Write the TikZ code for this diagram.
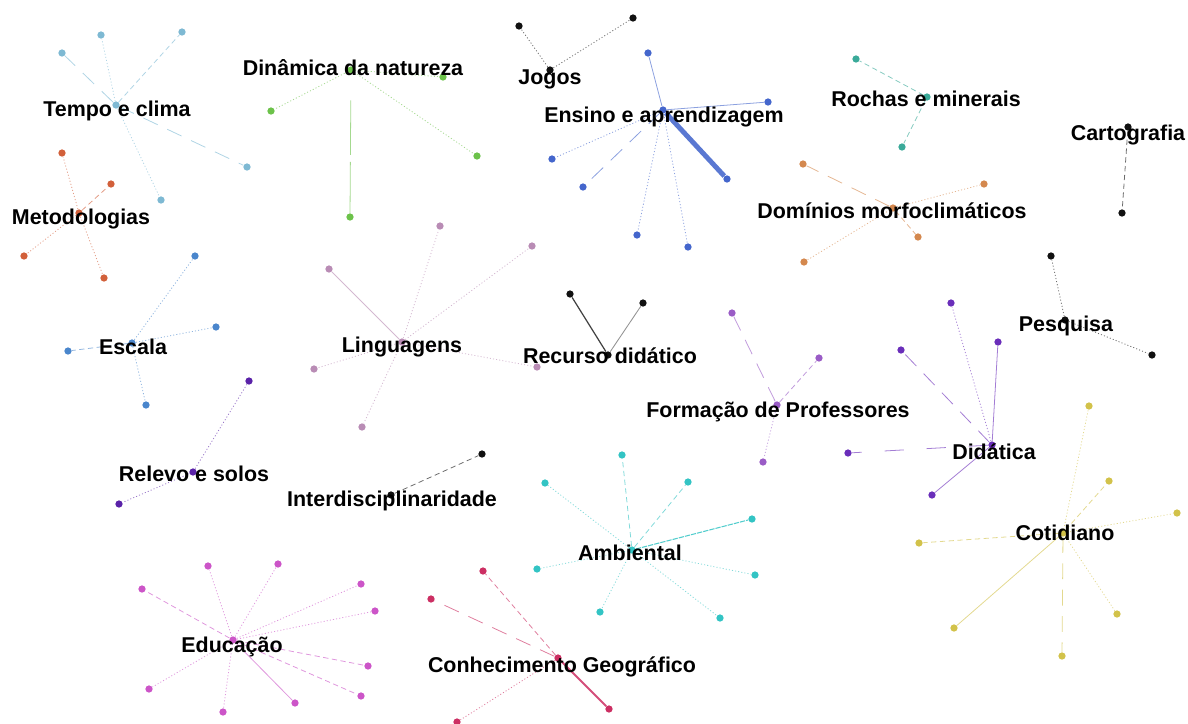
\documentclass[tikz,border=0pt]{standalone}
\usepackage{fontspec}
\setmainfont{Liberation Sans}
\definecolor{ctempo}{HTML}{7EB9D3}
\definecolor{cmet}{HTML}{D2603A}
\definecolor{cdin}{HTML}{6CC24A}
\definecolor{cens}{HTML}{4466CC}
\definecolor{croc}{HTML}{3AAA99}
\definecolor{cdom}{HTML}{D4884E}
\definecolor{cesc}{HTML}{4A86CC}
\definecolor{clin}{HTML}{B98CB5}
\definecolor{crel}{HTML}{5A22A8}
\definecolor{cfor}{HTML}{9A5CC6}
\definecolor{cdid}{HTML}{6A2EBA}
\definecolor{ccot}{HTML}{D2C24A}
\definecolor{camb}{HTML}{33C4C4}
\definecolor{cedu}{HTML}{CC55C8}
\definecolor{ccon}{HTML}{CC2F63}
\definecolor{cblk}{HTML}{111111}
\tikzset{
  pt/.style={circle, fill=#1, draw=none, inner sep=0pt, minimum size=0.145cm},
  ed/.style={draw=#1!62, line width=0.45pt},
  dt/.style={dash pattern=on 0.6pt off 1.2pt},
  ds/.style={dash pattern=on 3pt off 2pt},
  ld/.style={dash pattern=on 9pt off 6pt},
  vld/.style={dash pattern=on 11pt off 13pt},
  lbl/.style={font=\fontsize{12.2}{14}\selectfont\bfseries, anchor=base, inner sep=0pt, text=black}
}
\begin{document}
\begin{tikzpicture}[x=0.02cm, y=-0.02cm]
\useasboundingbox (0,0) rectangle (1188,724);
% ---------- dots ----------
% Tempo e clima
\node[pt=ctempo] (tc) at (116,105) {};
\node[pt=ctempo] (tc1) at (62,53) {};
\node[pt=ctempo] (tc2) at (101,35) {};
\node[pt=ctempo] (tc3) at (182,32) {};
\node[pt=ctempo] (tc4) at (247,167) {};
\node[pt=ctempo] (tc5) at (161,200) {};
% Metodologias
\node[pt=cmet] (me) at (79,213) {};
\node[pt=cmet] (me1) at (62,153) {};
\node[pt=cmet] (me2) at (111,184) {};
\node[pt=cmet] (me3) at (24,256) {};
\node[pt=cmet] (me4) at (104,278) {};
% Dinamica
\node[pt=cdin] (dn) at (351,70) {};
\node[pt=cdin] (dn1) at (271,111) {};
\node[pt=cdin] (dn2) at (443,77) {};
\node[pt=cdin] (dn3) at (477,156) {};
\node[pt=cdin] (dn4) at (350,217) {};
% Jogos
\node[pt=cblk] (jo) at (550,70) {};
\node[pt=cblk] (jo1) at (519,26) {};
\node[pt=cblk] (jo2) at (633,18) {};
% Ensino
\node[pt=cens] (en) at (663,110) {};
\node[pt=cens] (en1) at (648,53) {};
\node[pt=cens] (en2) at (768,102) {};
\node[pt=cens] (en3) at (552,159) {};
\node[pt=cens] (en4) at (583,187) {};
\node[pt=cens] (en5) at (727,179) {};
\node[pt=cens] (en6) at (637,235) {};
\node[pt=cens] (en7) at (688,247) {};
% Rochas
\node[pt=croc] (ro) at (927,97) {};
\node[pt=croc] (ro1) at (856,59) {};
\node[pt=croc] (ro2) at (902,147) {};
% Dominios
\node[pt=cdom] (do) at (893,208) {};
\node[pt=cdom] (do1) at (803,164) {};
\node[pt=cdom] (do2) at (984,184) {};
\node[pt=cdom] (do3) at (918,237) {};
\node[pt=cdom] (do4) at (804,262) {};
% Cartografia
\node[pt=cblk] (ca) at (1128,127) {};
\node[pt=cblk] (ca1) at (1122,213) {};
% Pesquisa
\node[pt=cblk] (pe) at (1065,320) {};
\node[pt=cblk] (pe1) at (1051,256) {};
\node[pt=cblk] (pe2) at (1152,355) {};
% Escala
\node[pt=cesc] (es) at (132,343) {};
\node[pt=cesc] (es1) at (195,256) {};
\node[pt=cesc] (es2) at (216,327) {};
\node[pt=cesc] (es3) at (68,351) {};
\node[pt=cesc] (es4) at (146,405) {};
% Linguagens
\node[pt=clin] (li) at (402,342) {};
\node[pt=clin] (li1) at (329,269) {};
\node[pt=clin] (li2) at (440,226) {};
\node[pt=clin] (li3) at (532,246) {};
\node[pt=clin] (li4) at (314,369) {};
\node[pt=clin] (li5) at (537,367) {};
\node[pt=clin] (li6) at (362,427) {};
% Relevo
\node[pt=crel] (re) at (193,472) {};
\node[pt=crel] (re1) at (249,381) {};
\node[pt=crel] (re2) at (119,504) {};
% Interdisciplinaridade
\node[pt=cblk] (in) at (391,495) {};
\node[pt=cblk] (in1) at (482,454) {};
% Recurso
\node[pt=cblk] (rc) at (608,355) {};
\node[pt=cblk] (rc1) at (570,294) {};
\node[pt=cblk] (rc2) at (643,303) {};
% Formacao
\node[pt=cfor] (fo) at (777,405) {};
\node[pt=cfor] (fo1) at (732,313) {};
\node[pt=cfor] (fo2) at (819,358) {};
\node[pt=cfor] (fo3) at (763,462) {};
% Didatica
\node[pt=cdid] (di) at (992,445) {};
\node[pt=cdid] (di1) at (951,303) {};
\node[pt=cdid] (di2) at (901,350) {};
\node[pt=cdid] (di3) at (998,342) {};
\node[pt=cdid] (di4) at (848,453) {};
\node[pt=cdid] (di5) at (932,495) {};
% Cotidiano
\node[pt=ccot] (co) at (1063,533) {};
\node[pt=ccot] (co1) at (1089,406) {};
\node[pt=ccot] (co2) at (1109,481) {};
\node[pt=ccot] (co3) at (1177,513) {};
\node[pt=ccot] (co4) at (919,543) {};
\node[pt=ccot] (co5) at (954,628) {};
\node[pt=ccot] (co6) at (1117,614) {};
\node[pt=ccot] (co7) at (1062,656) {};
% Ambiental
\node[pt=camb] (am) at (632,550) {};
\node[pt=camb] (am1) at (622,455) {};
\node[pt=camb] (am2) at (545,483) {};
\node[pt=camb] (am3) at (688,482) {};
\node[pt=camb] (am4) at (752,519) {};
\node[pt=camb] (am5) at (537,569) {};
\node[pt=camb] (am6) at (755,575) {};
\node[pt=camb] (am7) at (600,612) {};
\node[pt=camb] (am8) at (720,618) {};
% Educacao
\node[pt=cedu] (ed) at (233,640) {};
\node[pt=cedu] (ed1) at (208,566) {};
\node[pt=cedu] (ed2) at (278,564) {};
\node[pt=cedu] (ed3) at (142,589) {};
\node[pt=cedu] (ed4) at (361,584) {};
\node[pt=cedu] (ed5) at (375,611) {};
\node[pt=cedu] (ed6) at (149,689) {};
\node[pt=cedu] (ed7) at (223,712) {};
\node[pt=cedu] (ed8) at (295,703) {};
\node[pt=cedu] (ed9) at (368,666) {};
\node[pt=cedu] (ed10) at (361,696) {};
% Conhecimento
\node[pt=ccon] (cg) at (558,658) {};
\node[pt=ccon] (cg1) at (483,571) {};
\node[pt=ccon] (cg2) at (431,599) {};
\node[pt=ccon] (cg3) at (609,709) {};
\node[pt=ccon] (cg4) at (457,722) {};
% ---------- edges ----------
\draw[ed=ctempo, ld] (tc) -- (tc1);
\draw[ed=ctempo, dt] (tc) -- (tc2);
\draw[ed=ctempo, ds] (tc) -- (tc3);
\draw[ed=ctempo, ld] (tc) -- (tc4);
\draw[ed=ctempo, dt] (tc) -- (tc5);
\draw[ed=cmet, dt] (me) -- (me1);
\draw[ed=cmet, ds] (me) -- (me2);
\draw[ed=cmet, dt] (me) -- (me3);
\draw[ed=cmet, dt] (me) -- (me4);
\draw[ed=cdin, dt] (dn) -- (dn1);
\draw[ed=cdin, dt] (dn) -- (dn2);
\draw[ed=cdin, dt] (dn) -- (dn3);
\draw[ed=cdin, dash pattern=on 31pt off 4pt, shorten <=15pt] (dn) -- (dn4);
\draw[ed=cblk, dt] (jo) -- (jo1);
\draw[ed=cblk, dt] (jo) -- (jo2);
\draw[ed=cens] (en) -- (en1);
\draw[ed=cens] (en) -- (en2);
\draw[ed=cens, dt] (en) -- (en3);
\draw[ed=cens, ld] (en) -- (en4);
\draw[draw=cens!88, line width=2.8pt] (en) -- (en5);
\draw[ed=cens, dt] (en) -- (en6);
\draw[ed=cens, dt] (en) -- (en7);
\draw[ed=croc, ds] (ro) -- (ro1);
\draw[ed=croc, ds] (ro) -- (ro2);
\draw[ed=cdom, ld] (do) -- (do1);
\draw[ed=cdom, dt] (do) -- (do2);
\draw[ed=cdom, ds] (do) -- (do3);
\draw[ed=cdom, dt] (do) -- (do4);
\draw[ed=cblk, ds] (ca) -- (ca1);
\draw[ed=cblk, dt] (pe) -- (pe1);
\draw[ed=cblk, dt] (pe) -- (pe2);
\draw[ed=cesc, dt] (es) -- (es1);
\draw[ed=cesc, dt] (es) -- (es2);
\draw[ed=cesc, ds] (es) -- (es3);
\draw[ed=cesc, dt] (es) -- (es4);
\draw[ed=clin] (li) -- (li1);
\draw[ed=clin, dt] (li) -- (li2);
\draw[ed=clin, dt] (li) -- (li3);
\draw[ed=clin, dt] (li) -- (li4);
\draw[ed=clin, dt] (li) -- (li5);
\draw[ed=clin, dt] (li) -- (li6);
\draw[ed=crel, dt] (re) -- (re1);
\draw[ed=crel, dt] (re) -- (re2);
\draw[ed=cblk, ds] (in) -- (in1);
\draw[draw=cblk!80, line width=0.7pt] (rc) -- (rc1);
\draw[draw=cblk!45, line width=0.5pt] (rc) -- (rc2);
\draw[ed=cfor, ld] (fo) -- (fo1);
\draw[ed=cfor, ds] (fo) -- (fo2);
\draw[ed=cfor, dt] (fo) -- (fo3);
\draw[ed=cdid, dt] (di) -- (di1);
\draw[ed=cdid, ld] (di) -- (di2);
\draw[ed=cdid] (di) -- (di3);
\draw[ed=cdid, vld] (di) -- (di4);
\draw[ed=cdid] (di) -- (di5);
\draw[ed=ccot, dt] (co) -- (co1);
\draw[ed=ccot, ds] (co) -- (co2);
\draw[ed=ccot, dt] (co) -- (co3);
\draw[ed=ccot, ds] (co) -- (co4);
\draw[ed=ccot] (co) -- (co5);
\draw[ed=ccot, dt] (co) -- (co6);
\draw[ed=ccot, ld] (co) -- (co7);
\draw[ed=camb, ds] (am) -- (am1);
\draw[ed=camb, dt] (am) -- (am2);
\draw[ed=camb, ds] (am) -- (am3);
\draw[draw=camb!85, line width=0.6pt, dash pattern=on 3pt off 0.6pt] (am) -- (am4);
\draw[ed=camb, dt] (am) -- (am5);
\draw[ed=camb, dt] (am) -- (am6);
\draw[ed=camb, dt] (am) -- (am7);
\draw[ed=camb, dt] (am) -- (am8);
\draw[ed=cedu, dt] (ed) -- (ed1);
\draw[ed=cedu, dt] (ed) -- (ed2);
\draw[ed=cedu, ds] (ed) -- (ed3);
\draw[ed=cedu, dt] (ed) -- (ed4);
\draw[ed=cedu, dt] (ed) -- (ed5);
\draw[ed=cedu, dt] (ed) -- (ed6);
\draw[ed=cedu, dt] (ed) -- (ed7);
\draw[ed=cedu] (ed) -- (ed8);
\draw[ed=cedu, ds] (ed) -- (ed9);
\draw[ed=cedu, ds] (ed) -- (ed10);
\draw[ed=ccon, ds] (cg) -- (cg1);
\draw[ed=ccon, ld] (cg) -- (cg2);
\draw[draw=ccon!85, line width=1.1pt] (cg) -- (cg3);
\draw[ed=ccon, dt] (cg) -- (cg4);
% ---------- labels ----------
\node[lbl] (ltc) at (117,116) {Tempo e clima};
\node[lbl] (ldn) at (353,75) {Dinâmica da natureza};
\node[lbl] (ljo) at (550,84) {Jogos};
\node[lbl] (len) at (664,122) {Ensino e aprendizagem};
\node[lbl] (lro) at (926,106) {Rochas e minerais};
\node[lbl] (lca) at (1128,140) {Cartografia};
\node[lbl] (lme) at (81,224) {Metodologias};
\node[lbl] (ldo) at (892,218) {Domínios morfoclimáticos};
\node[lbl] (les) at (133,354) {Escala};
\node[lbl] (lli) at (402,352) {Linguagens};
\node[lbl] (lrc) at (610,363) {Recurso didático};
\node[lbl] (lpe) at (1066,331) {Pesquisa};
\node[lbl] (lfo) at (778,417) {Formação de Professores};
\node[lbl] (lre) at (194,481) {Relevo e solos};
\node[lbl] (ldi) at (994,459) {Didática};
\node[lbl] (lin) at (392,506) {Interdisciplinaridade};
\node[lbl] (lam) at (630,560) {Ambiental};
\node[lbl] (lco) at (1065,540) {Cotidiano};
\node[lbl] (led) at (232,652) {Educação};
\node[lbl] (lcg) at (562,672) {Conhecimento Geográfico};
\end{tikzpicture}
\end{document}
